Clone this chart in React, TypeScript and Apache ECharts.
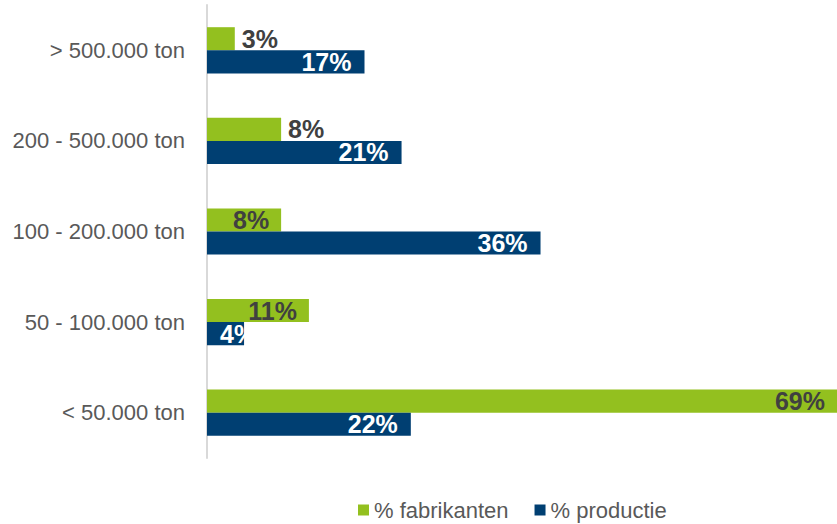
import React, { useEffect, useRef } from "react";
import * as echarts from "echarts";

const categories = ["> 500.000 ton", "200 - 500.000 ton", "100 - 200.000 ton", "50 - 100.000 ton", "< 50.000 ton"];
const fabrikanten = [3, 8, 8, 11, 69];
const productie = [17, 21, 36, 4, 22];
// label placement per bar (layout, not data)
const fabrikantenLabelPos = ["right", "right", "insideRight", "insideRight", "insideRight"];
const productieLabelPos = ["insideRight", "insideRight", "insideRight", "insideLeft", "insideRight"];

const FONT = "Liberation Sans";

export default function App() {
  const ref = useRef<HTMLDivElement>(null);
  useEffect(() => {
    const chart = echarts.init(ref.current!, undefined, { renderer: "svg" });
    chart.setOption({
      animation: false,
      textStyle: { fontFamily: FONT },
      grid: { left: 207, right: 0, top: 5, bottom: 66, containLabel: false },
      legend: {
        left: 353,
        top: 494,
        itemWidth: 11,
        itemHeight: 11,
        itemGap: 26,
        icon: "rect",
        textStyle: { fontSize: 22, color: "#595959", fontFamily: FONT },
        data: ["% fabrikanten", "% productie"],
      },
      xAxis: {
        type: "value",
        min: 0,
        max: 68,
        show: false,
        splitLine: { show: false },
      },
      yAxis: {
        type: "category",
        inverse: true,
        data: categories,
        axisLine: { show: true, lineStyle: { color: "#d9d9d9", width: 2 } },
        axisTick: { show: false },
        axisLabel: { fontSize: 22, color: "#595959", margin: 22, fontFamily: FONT },
      },
      series: [
        {
          name: "% fabrikanten",
          type: "bar",
          barGap: "0%",
          barCategoryGap: "49%",
          clip: true,
          itemStyle: { color: "#93C01F" },
          data: fabrikanten.map((v, i) => ({
            value: v,
            label: {
              show: true,
              position: fabrikantenLabelPos[i],
              distance: fabrikantenLabelPos[i] === "right" ? 7 : 12,
            },
          })),
          label: {
            show: true,
            formatter: "{c}%",
            fontSize: 25,
            fontWeight: "bold",
            color: "#404040",
            fontFamily: FONT,
          },
        },
        {
          name: "% productie",
          type: "bar",
          barGap: "0%",
          barCategoryGap: "49%",
          clip: true,
          itemStyle: { color: "#003F72" },
          data: productie.map((v, i) => ({
            value: v,
            label: {
              show: true,
              position: productieLabelPos[i],
              distance: 13,
            },
          })),
          label: {
            show: true,
            formatter: "{c}%",
            fontSize: 25,
            fontWeight: "bold",
            color: "#ffffff",
            fontFamily: FONT,
          },
        },
      ],
    });
    return () => chart.dispose();
  }, []);
  return (
    <div
      ref={ref}
      style={{ position: "fixed", left: 0, top: 0, width: 837, height: 524, background: "#fff" }}
    />
  );
}
